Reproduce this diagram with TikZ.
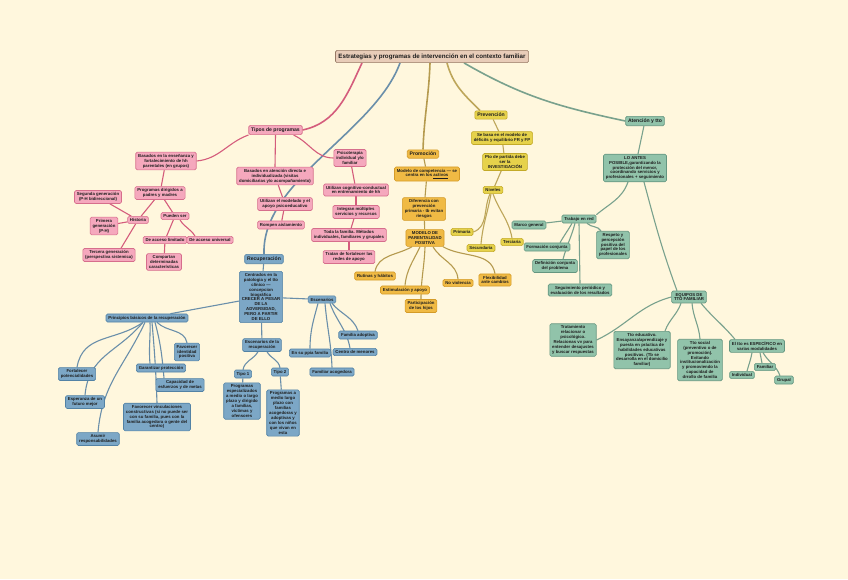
\documentclass[tikz,border=0pt]{standalone}
\usepackage{fontspec}
\setmainfont{Liberation Sans}
\usetikzlibrary{backgrounds}
\definecolor{bg}{RGB}{255,247,221}
\definecolor{txt}{RGB}{30,30,30}
\definecolor{titleF}{RGB}{232,204,184}
\definecolor{titleD}{RGB}{150,120,100}
\definecolor{pinkF}{RGB}{245,168,189}
\definecolor{pinkD}{RGB}{214,110,140}
\definecolor{pinkL}{RGB}{212,92,124}
\definecolor{blueF}{RGB}{124,167,198}
\definecolor{blueD}{RGB}{82,130,165}
\definecolor{blueL}{RGB}{106,143,170}
\definecolor{orF}{RGB}{240,186,68}
\definecolor{orD}{RGB}{212,155,40}
\definecolor{orL}{RGB}{181,154,78}
\definecolor{yeF}{RGB}{230,210,75}
\definecolor{yeD}{RGB}{195,170,40}
\definecolor{yeL}{RGB}{189,166,90}
\definecolor{grF}{RGB}{145,195,170}
\definecolor{grD}{RGB}{100,150,128}
\definecolor{grL}{RGB}{121,161,141}
\newcommand\smallfnt{\fontsize{4.3}{4.9}\selectfont\bfseries}
\newcommand\bigfnt{\fontsize{5.1}{6}\selectfont\bfseries}
\newcommand\titlefnt{\fontsize{6.2}{7}\selectfont\bfseries}
\tikzset{
  box/.style={draw, rounded corners=1.5pt, line width=0.6pt, align=center, font=\smallfnt, inner xsep=2.4pt, inner ysep=2pt, text=txt},
  pk/.style={box, fill=pinkF, draw=pinkD},
  bl/.style={box, fill=blueF, draw=blueD},
  og/.style={box, fill=orF, draw=orD},
  yl/.style={box, fill=yeF, draw=yeD},
  gr/.style={box, fill=grF, draw=grD},
  bigbox/.style={font=\bigfnt, inner ysep=2.3pt},
  mainE/.style={line width=1.6pt},
  subE/.style={line width=1.1pt},
  pe/.style={subE, draw=pinkL},
  be/.style={subE, draw=blueL},
  oe/.style={subE, draw=orL},
  ye/.style={subE, draw=yeL},
  ge/.style={subE, draw=grL},
}
\begin{document}
\begin{tikzpicture}[x=1pt,y=1pt]
\useasboundingbox (0,0) rectangle (848,-579);
% ---------- nodes ----------
\node[box, fill=titleF, draw=titleD, font=\titlefnt, inner ysep=3.2pt, inner xsep=3pt] (title) at (432,-56.5) {Estrategias y programas de intervención en el contexto familiar};

% pink
\node[pk, bigbox] (tipos) at (275.5,-130) {Tipos de programas};
\node[pk] (psico) at (350,-158) {Psicoterapia\\individual y/o\\familiar};
\node[pk] (basAt) at (275,-176) {Basados en atención directa e\\individualizada (visitas\\domiciliarias y/o acompañamiento)};
\node[pk] (utiMod) at (285,-204) {Utilizan el modelado y el\\apoyo psicoeducativo};
\node[pk] (rompen) at (281,-225) {Rompen aislamiento};
\node[pk] (utiCog) at (356,-190) {Utilizan cognitivo-conductual\\en entrenamiento de hh};
\node[pk] (integ) at (356,-212) {Integran múltiples\\servicios y recursos};
\node[pk] (toda) at (349,-235) {Toda la familia. Métodos\\individuales, familiares y grupales};
\node[pk] (tratan) at (349,-257) {Tratan de fortalecer las\\redes de apoyo};
\node[pk] (basEns) at (166,-161) {Basados en la enseñanza y\\fortalecimiento de hh\\parentales (en grupos)};
\node[pk] (progDir) at (160,-193) {Programas dirigidos a\\padres y madres};
\node[pk] (segunda) at (98,-197) {Segunda generación\\(P-H bidireccional)};
\node[pk] (historia) at (138,-220) {Historia};
\node[pk] (primera) at (104,-226) {Primera\\generación\\(P-H)};
\node[pk] (pueden) at (175,-216) {Pueden ser};
\node[pk] (limitado) at (165,-240) {De acceso limitado};
\node[pk] (universal) at (210,-240) {De acceso universal};
\node[pk] (compartan) at (164,-262) {Compartan\\determinadas\\características};
\node[pk] (tercera) at (109,-255) {Tercera generación\\(perspectiva sistemica)};

% blue
\node[bl, bigbox] (recup) at (264,-259) {Recuperación};
\node[bl] (centr) at (261,-297) {Centrados en la\\patologia y el tto\\clínico —\\concepcion\\biográfica\\CRECER A PESAR\\DE LA\\ADVERSIDAD,\\PERO A PARTIR\\DE ELLO};
\node[bl] (prin) at (147,-318) {Principios básicos de la recuperación};
\node[bl] (fort) at (77,-374) {Fortalecer\\potencialidades};
\node[bl] (esper) at (85,-402) {Esperanza de un\\futuro mejor};
\node[bl] (asumir) at (98,-439) {Asumir\\responsabilidades};
\node[bl] (garant) at (161,-368) {Garantizar protección};
\node[bl] (ident) at (187,-352) {Favorecer\\identidad\\positiva};
\node[bl] (capac) at (180,-385) {Capacidad de\\esfuerzos y de metas};
\node[bl] (vincul) at (157,-417) {Favorecer vinculaciones\\constructivas (si no puede ser\\con su familia, pues con la\\familia acogedora o gente del\\centro)};
\node[bl] (escen) at (322,-299.5) {Escenarios};
\node[bl] (escRec) at (262,-345) {Escenarios de la\\recuperación};
\node[bl] (tipo1) at (243,-374) {Tipo 1};
\node[bl] (tipo2) at (280,-372) {Tipo 2};
\node[bl] (progEsp) at (242,-401) {Programas\\especializados\\a medio o largo\\plazo y dirigido\\a familias,\\víctimas y\\ofensores};
\node[bl] (progMed) at (283,-413) {Programas a\\medio largo\\plazo con\\familias\\acogedoras y\\adoptivas y\\con los niños\\que vivan en\\esta};
\node[bl] (enSu) at (310,-353) {En su ppia familia};
\node[bl] (famAdo) at (358,-335) {Familia adoptiva};
\node[bl] (centroMen) at (355,-352) {Centro de menores};
\node[bl] (famAco) at (332,-372) {Familiar acogedora};

% orange
\node[og, bigbox] (promo) at (423,-154) {Promoción};
\node[og] (modComp) at (427,-174) {Modelo de competencia — se\\centra en los \underline{activos}};
\node[og] (difer) at (424,-209) {Diferencia con\\prevención\\primaria - tb evitan\\riesgos};
\node[og] (modPar) at (425,-238) {MODELO DE\\PARENTALIDAD\\POSITIVA};
\node[og] (rutinas) at (375,-276) {Rutinas y hábitos};
\node[og] (estim) at (405,-290) {Estimulación y apoyo};
\node[og] (partic) at (421,-306) {Participación\\de los hijos};
\node[og] (noviol) at (458,-283) {No violencia};
\node[og] (flex) at (495,-280) {Flexibilidad\\ante cambios};

% yellow
\node[yl, bigbox] (prev) at (491,-115) {Prevención};
\node[yl] (seBasa) at (502,-138) {Se basa en el modelo de\\déficits y equilibrio FR y FP};
\node[yl] (pto) at (505,-162) {Pto de partida debe\\ser la\\INVESTIGACIÓN};
\node[yl] (niveles) at (493,-190) {Niveles};
\node[yl] (primaria) at (462,-232) {Primaria};
\node[yl] (secundaria) at (481,-248) {Secundaria};
\node[yl] (terciaria) at (512,-242) {Terciaria};

% green
\node[gr, bigbox] (aten) at (645,-121) {Atención y tto};
\node[gr] (loAntes) at (635,-168) {LO ANTES\\POSIBLE,garantizando la\\protección del menor,\\coordinando servicios y\\profesionales + seguimiento};
\node[gr] (trabajo) at (579,-219) {Trabajo en red};
\node[gr] (marco) at (529,-225) {Marco general};
\node[gr] (formacion) at (547,-247) {Formación conjunta};
\node[gr] (definicion) at (555,-266) {Definición conjunta\\del problema};
\node[gr] (respeto) at (613,-245) {Respeto y\\percepción\\positiva del\\papel de los\\profesionales};
\node[gr] (seguimiento) at (580,-290) {Seguimiento periódico y\\evaluación de los resultados};
\node[gr] (equipos) at (689,-297) {EQUIPOS DE\\TTO FAMILIAR};
\node[gr] (tratamiento) at (573,-340) {Tratamiento\\relacionar o\\psicológico.\\Relacionas vv para\\entender desajustes\\y buscar respuestas};
\node[gr] (educ) at (642,-350) {Tto educativo.\\Ensayanza/aprendizaje y\\puesta en práctica de\\habilidades educativas\\positivas. (Tb se\\desarrolla en el domicilio\\familiar)};
\node[gr] (social) at (700,-360) {Tto social\\(preventivo o de\\promoción).\\Evitando\\institucionalización\\y promoviendo la\\capacidad de\\drrollo de familia};
\node[gr] (espec) at (757,-346) {El tto es ESPECÍFICO en\\varias modalidades};
\node[gr] (individual) at (742,-375) {Individual};
\node[gr] (familiar) at (765,-367) {Familiar};
\node[gr] (grupal) at (784,-380) {Grupal};

% ---------- connectors ----------
\begin{pgfonlayer}{background}
\fill[bg] (0,0) rectangle (848,-579);
% main branches
\draw[mainE, draw=pinkL] ([xshift=-70pt]title.south) to[out=245,in=12] (tipos.east);
\draw[mainE, draw=blueL] ([xshift=-32pt]title.south) to[out=250,in=92,looseness=0.8] (recup.north);
\draw[mainE, draw=orL] ([xshift=-2pt]title.south) to[out=-92,in=88] (promo.north);
\draw[mainE, draw=yeL] ([xshift=15pt]title.south) to[out=-75,in=135] ([xshift=-11pt]prev.north);
\draw[mainE, draw=grL] ([xshift=32pt]title.south) to[out=-30,in=168] (aten.west);

% pink
\draw[pe] (tipos.south west) to[out=200,in=5] (basEns.east);
\draw[pe] (tipos.south) -- (basAt.north);
\draw[pe] ([xshift=18pt]tipos.south) to[out=-25,in=180] (psico.west);
\draw[pe] (basAt) -- (utiMod);
\draw[pe] (utiMod) -- (rompen);
\draw[pe] (psico) -- (utiCog);
\draw[pe] (utiCog) -- (integ);
\draw[pe] (integ) -- (toda);
\draw[pe] (toda) -- (tratan);
\draw[pe] (basEns) -- (progDir);
\draw[pe] (progDir) -- (historia);
\draw[pe] (progDir) -- (pueden);
\draw[pe] (historia) -- (segunda);
\draw[pe] (historia) -- (primera);
\draw[pe] (historia) -- ([xshift=12pt]tercera.north);
\draw[pe] (pueden) -- (limitado);
\draw[pe] ([xshift=5pt]pueden.south) to[out=-60,in=120] ([xshift=-15pt]universal.north);
\draw[pe] (limitado) -- (compartan);

% blue
\draw[be] (recup) -- (centr);
\draw[be] (centr) -- (prin);
\draw[be] (centr) -- (escen);
\draw[be] (centr) -- (escRec);
\draw[be] ([xshift=-4pt]escRec.south) to[out=-120,in=80] (tipo1.north);
\draw[be] ([xshift=5pt]escRec.south) to[out=-60,in=100] (tipo2.north);
\draw[be] (tipo1) -- (progEsp);
\draw[be] (tipo2) -- (progMed);
\draw[be] ([xshift=-4pt]escen.south) to[out=-105,in=90] (enSu.north);
\draw[be] ([xshift=3pt]escen.south) to[out=-85,in=92] (famAco.north);
\draw[be] ([xshift=8pt]escen.south) to[out=-70,in=100] ([xshift=-5pt]centroMen.north);
\draw[be] ([xshift=10pt]escen.south) to[out=-50,in=110] (famAdo.north);
\draw[be] ([xshift=-4pt]prin.south) to[out=-145,in=80,looseness=1.1] (fort.north);
\draw[be] ([xshift=-4pt]prin.south) to[out=-130,in=85,looseness=1.1] (esper.north);
\draw[be] ([xshift=-2pt]prin.south) to[out=-115,in=85,looseness=1.05] (asumir.north);
\draw[be] ([xshift=3pt]prin.south) to[out=-88,in=95] ([xshift=-11pt]garant.north);
\draw[be] ([xshift=5pt]prin.south) to[out=-85,in=92] (vincul.north);
\draw[be] ([xshift=8pt]prin.south) to[out=-75,in=95] ([xshift=-16pt]capac.north);
\draw[be] ([xshift=10pt]prin.south) to[out=-45,in=100] (ident.north);

% orange
\draw[oe] (promo) -- (modComp);
\draw[oe] (modComp) -- (difer);
\draw[oe] (difer) -- (modPar);
\draw[oe] ([xshift=-13pt]modPar.south) to[out=-150,in=80] (rutinas.north);
\draw[oe] ([xshift=-5pt]modPar.south) to[out=-115,in=85] (estim.north);
\draw[oe] (modPar.south) to[out=-92,in=90] (partic.north);
\draw[oe] ([xshift=8pt]modPar.south) to[out=-60,in=95] (noviol.north);
\draw[oe] ([xshift=18pt]modPar.south) to[out=-30,in=100] (flex.north);

% yellow
\draw[ye] (prev) -- (seBasa);
\draw[ye] (seBasa) -- (pto);
\draw[ye] (pto) -- (niveles);
\draw[ye] ([xshift=-3pt]niveles.south) to[out=-115,in=20] (primaria.east);
\draw[ye] ([xshift=-2pt]niveles.south) to[out=-100,in=85] (secundaria.north);
\draw[ye] (niveles.south) to[out=-70,in=100] (terciaria.north);

% green
\draw[ge] (aten) -- (loAntes);
\draw[ge] ([xshift=-7pt]loAntes.south) to[out=-110,in=40] (trabajo.north east);
\draw[ge] ([xshift=9pt]loAntes.south) to[out=-75,in=110] ([xshift=-12pt]equipos.north);
\draw[ge] (trabajo) -- (marco);
\draw[ge] ([xshift=-7pt]trabajo.south) to[out=-120,in=60] ([xshift=13pt]formacion.north);
\draw[ge] ([xshift=-4pt]trabajo.south) to[out=-105,in=75] ([xshift=8pt]definicion.north);
\draw[ge] (trabajo.south) -- (seguimiento.north);
\draw[ge] ([xshift=8pt]trabajo.south) to[out=-45,in=120] ([xshift=-12pt]respeto.north);
\draw[ge] (equipos.west) to[out=195,in=25] (tratamiento.east);
\draw[ge] ([xshift=-8pt]equipos.south) to[out=-110,in=70] ([xshift=23pt]educ.north);
\draw[ge] ([xshift=3pt]equipos.south) to[out=-85,in=95] (social.north);
\draw[ge] ([xshift=12pt]equipos.south) to[out=-50,in=130] ([xshift=-22pt]espec.north);
\draw[ge] ([xshift=-5pt]espec.south) to[out=-100,in=75] ([xshift=5pt]individual.north);
\draw[ge] ([xshift=3pt]espec.south) -- ([xshift=-3pt]familiar.north);
\draw[ge] ([xshift=6pt]espec.south) to[out=-60,in=110] ([xshift=-4pt]grupal.north);
\end{pgfonlayer}
\end{tikzpicture}
\end{document}
